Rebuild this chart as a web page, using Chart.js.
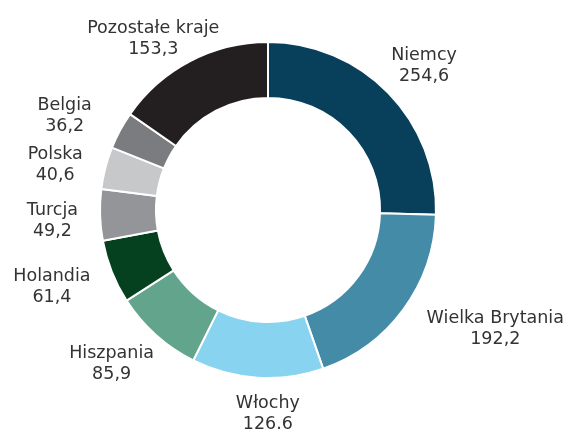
<!DOCTYPE html>
<html><head><meta charset="utf-8">
<script src="https://cdn.jsdelivr.net/npm/chart.js@4/dist/chart.umd.min.js"></script>
<style>html,body{margin:0;padding:0;background:#fff}canvas{display:block}</style>
</head><body>
<canvas id="c" width="568" height="432"></canvas>
<script>
const categories = ['Niemcy','Wielka Brytania','Włochy','Hiszpania','Holandia','Turcja','Polska','Belgia','Pozostałe kraje'];
const values = [254.6,192.2,126.6,85.9,61.4,49.2,40.6,36.2,153.3];
const valueLabels = ['254,6','192,2','126.6','85,9','61,4','49,2','40,6','36,2','153,3'];
const colors = ['#083F5B','#438BA7','#88D3EF','#62A58C','#05401F','#939598','#C7C8CA','#7B7C7F','#231F20'];

// label layout tweaks (angle nudge in degrees, gap from ring in px)
const labelAngleNudge = [1.1,-8.9,-3.6,3.8,2.3,-0.8,-2.2,-3.2,-6];
const labelGap = [16,20,18,9.5,19,22,24,32,12];

const outLabels = {
  id:'outLabels',
  afterDatasetsDraw(chart){
    const ctx = chart.ctx;
    const meta = chart.getDatasetMeta(0);
    const fs = 17.5, lh = 21, capH = fs*0.70;
    ctx.save();
    ctx.font = fs + 'px "DejaVu Sans"';
    ctx.fillStyle = '#333333';
    ctx.textAlign = 'center';
    ctx.textBaseline = 'alphabetic';
    meta.data.forEach((arc,i)=>{
      const p = arc.getProps(['x','y','startAngle','endAngle','outerRadius'], true);
      const cx=p.x, cy=p.y;
      const a = (p.startAngle+p.endAngle)/2 + labelAngleNudge[i]*Math.PI/180;
      const lines = [categories[i], valueLabels[i]];
      const ws = lines.map(l=>ctx.measureText(l).width);
      const target = p.outerRadius + labelGap[i];
      const ux=Math.cos(a), uy=Math.sin(a);
      const n = lines.length;
      const minDist = t => {
        let m = Infinity;
        lines.forEach((l,j)=>{
          const lx = cx + t*ux, ly = cy + t*uy + (j-(n-1)/2)*lh;
          const x0=lx-ws[j]/2, x1=lx+ws[j]/2, y0=ly-capH/2, y1=ly+capH/2;
          const dx=Math.max(x0-cx,0,cx-x1), dy=Math.max(y0-cy,0,cy-y1);
          m=Math.min(m,Math.hypot(dx,dy));
        });
        return m;
      };
      let lo=0, hi=500;
      for(let k=0;k<40;k++){const mid=(lo+hi)/2; if(minDist(mid)<target) lo=mid; else hi=mid;}
      const px=cx+hi*ux, py=cy+hi*uy;
      lines.forEach((l,j)=>{
        const ly = py + (j-(n-1)/2)*lh;
        ctx.fillText(l, px, ly+capH/2);
      });
    });
    ctx.restore();
  }
};

new Chart(document.getElementById('c'), {
  type:'doughnut',
  data:{
    labels: categories,
    datasets:[{
      data: values,
      backgroundColor: colors,
      borderColor:'#ffffff',
      borderWidth:2
    }]
  },
  options:{
    responsive:false,
    animation:false,
    cutout:'66.7%',
    layout:{padding:{left:99,right:131,top:41,bottom:53}},
    plugins:{legend:{display:false},tooltip:{enabled:false}}
  },
  plugins:[outLabels]
});
</script>
</body></html>
